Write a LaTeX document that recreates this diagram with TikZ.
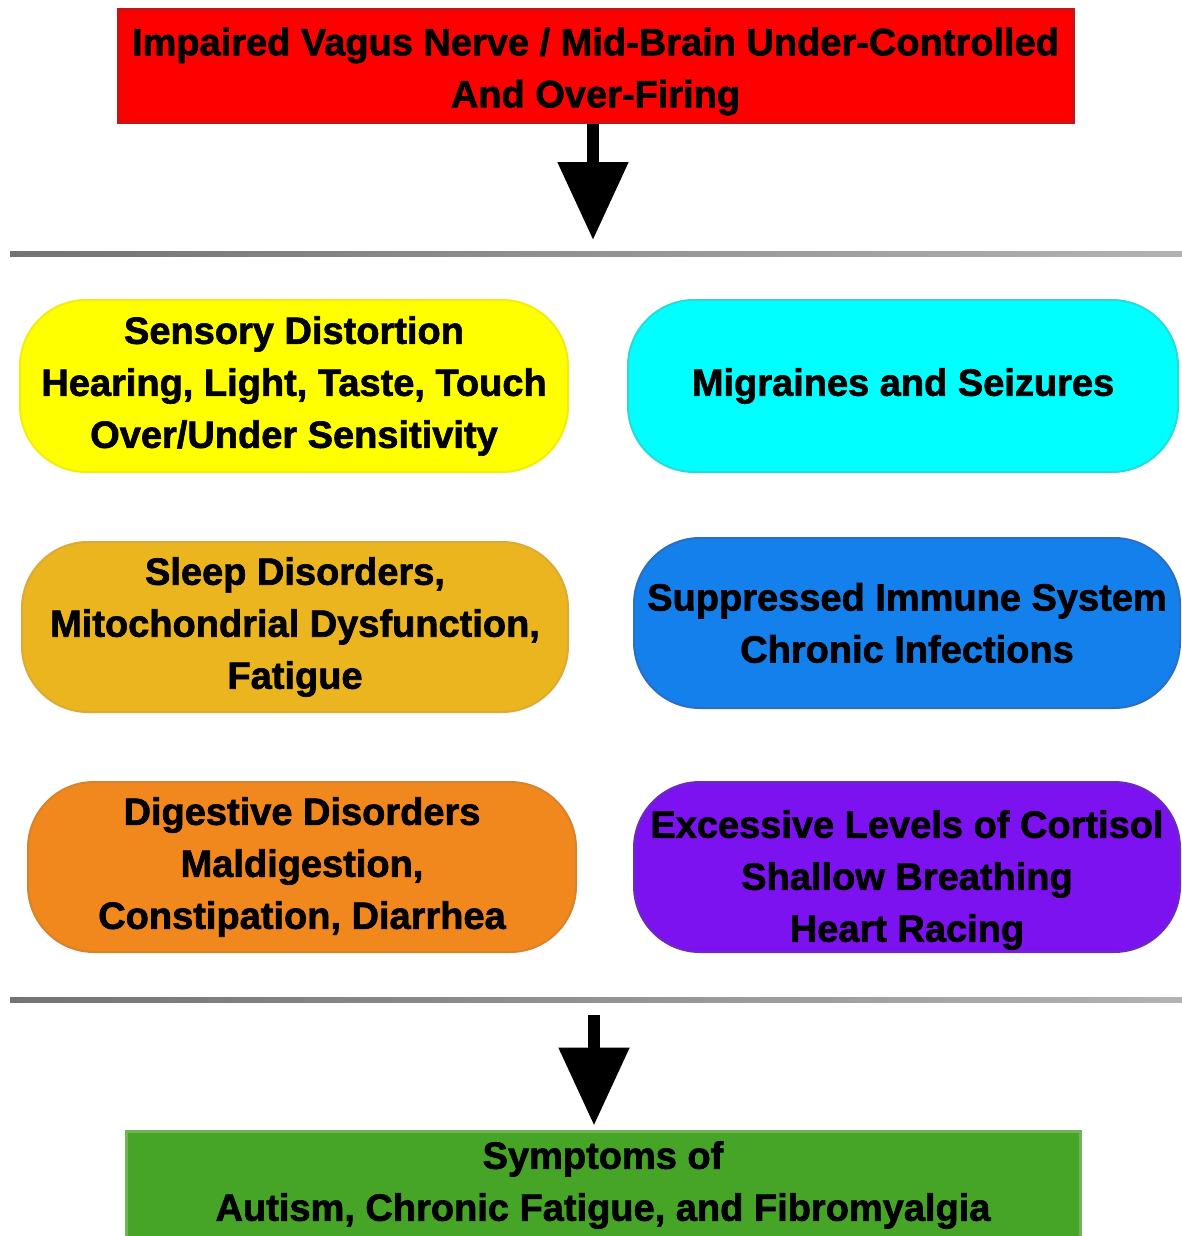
\documentclass[tikz,border=0pt]{standalone}
\usepackage{fontspec}
\setmainfont{Liberation Sans}[BoldFeatures={FakeBold=1.7}]
\usetikzlibrary{arrows.meta}
\definecolor{redc}{HTML}{FF0000}\definecolor{redb}{HTML}{C81414}
\definecolor{yellowc}{HTML}{FFFF00}\definecolor{yellowb}{HTML}{F2EC10}
\definecolor{cyanc}{HTML}{00FFFF}\definecolor{cyanb}{HTML}{2ADADA}
\definecolor{goldc}{HTML}{EBB520}\definecolor{goldb}{HTML}{DCAA38}
\definecolor{bluec}{HTML}{1480EC}\definecolor{blueb}{HTML}{2C6EC4}
\definecolor{orangec}{HTML}{F0881E}\definecolor{orangeb}{HTML}{D8822E}
\definecolor{purplec}{HTML}{7D12F0}\definecolor{purpleb}{HTML}{6A2CBC}
\definecolor{greenc}{HTML}{46A526}\definecolor{greenb}{HTML}{72B356}
\begin{document}
\begin{tikzpicture}[x=1pt,y=-1pt,
  txtfont/.style={font=\bfseries\fontsize{38}{52}\selectfont, text=black},
  banner/.style={rectangle, inner sep=0pt, line width=3pt, align=center, txtfont},
  pill/.style={rectangle, rounded corners=66pt, inner sep=0pt, line width=2pt, align=center, txtfont},
  rulebar/.style={rectangle, inner sep=0pt, minimum width=1172pt, minimum height=5pt,
    left color=black!55, middle color=black!70, right color=black!30},
  bigarrow/.style={line width=12pt, -{Triangle[width=68pt,length=78pt]}}]
\useasboundingbox (0,0) rectangle (1182,1236);
\clip (0,0) rectangle (1182,1236);
\fill[white] (0,0) rectangle (1182,1236);

% top banner
\node[banner, fill=redc, draw=redb, minimum width=955pt, minimum height=113pt,
  label={[txtfont, align=center, yshift=-5pt]center:{Impaired Vagus Nerve / Mid-Brain Under-Controlled\\And Over-Firing}}] (top) at (595.5,66.5) {};

% rules
\node[rulebar] (rule1) at (596,254) {};
\node[rulebar] (rule2) at (596,1000) {};

% arrow 1
\coordinate (a1end) at (593,240);
\draw[bigarrow] (top.south -| a1end) -- (a1end);

% pills
\node[pill, fill=yellowc, draw=yellowb, minimum width=548pt, minimum height=172pt] (sensory) at (294,386)
  {Sensory Distortion\\Hearing, Light, Taste, Touch\\Over/Under Sensitivity};
\node[pill, fill=cyanc, draw=cyanb, minimum width=550pt, minimum height=172pt] (migraine) at (903,386)
  {Migraines and Seizures};
\node[pill, fill=goldc, draw=goldb, minimum width=546pt, minimum height=170pt] (sleep) at (295,627)
  {Sleep Disorders,\\Mitochondrial Dysfunction,\\Fatigue};
\node[pill, fill=bluec, draw=blueb, minimum width=546pt, minimum height=170pt] (immune) at (907,623)
  {Suppressed Immune System\\Chronic Infections};
\node[pill, fill=orangec, draw=orangeb, minimum width=548pt, minimum height=170pt] (digest) at (302,867)
  {Digestive Disorders\\Maldigestion,\\Constipation, Diarrhea};
\node[pill, fill=purplec, draw=purpleb, minimum width=546pt, minimum height=170pt,
  label={[txtfont, align=center, yshift=-13pt]center:{Excessive Levels of Cortisol\\Shallow Breathing\\Heart Racing}}] (cortisol) at (907,867) {};

% bottom banner
\node[banner, fill=greenc, draw=greenb, minimum width=954pt, minimum height=108pt] (bottom) at (603,1185)
  {Symptoms of\\Autism, Chronic Fatigue, and Fibromyalgia};

% arrow 2
\coordinate (a2start) at (594,1015);
\draw[bigarrow, shorten >=4pt] (a2start) -- (a2start |- bottom.north);
\end{tikzpicture}
\end{document}
